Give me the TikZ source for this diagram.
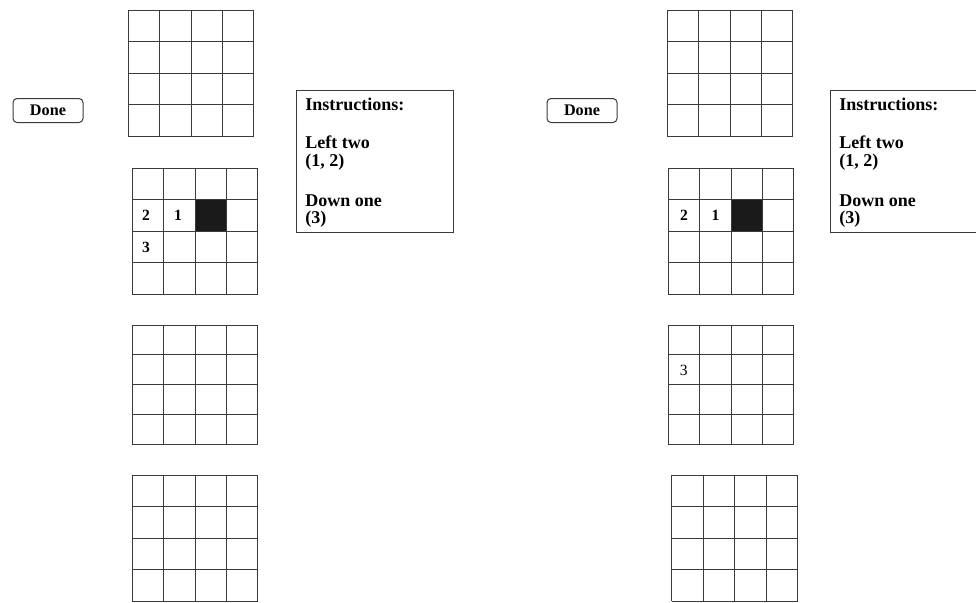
\documentclass[tikz,border=0pt]{standalone}
\usepackage{fontspec}
\setmainfont{Liberation Serif}
\usetikzlibrary{positioning}
\definecolor{ink}{HTML}{1A1A1A}
\definecolor{rule}{HTML}{3A3A3A}

\begin{document}
\begin{tikzpicture}[x=0.5pt,y=0.5pt,
  g/.style={draw=rule,line width=0.5pt},
  btn/.style={draw=rule,line width=0.5pt,rounded corners=2pt,minimum width=35pt,minimum height=12pt,inner sep=0pt,font=\fontsize{8.1}{9}\selectfont\bfseries},
  box/.style={draw=rule,line width=0.5pt,minimum width=78.5pt,minimum height=71pt,inner sep=0pt,anchor=north west},
  txt/.style={inner sep=0pt,align=left,font=\fontsize{9}{8.75}\selectfont\bfseries},
  num/.style={inner sep=0pt,font=\fontsize{7.8}{9}\selectfont\bfseries}]
\useasboundingbox (0,0) rectangle (976,-602);
% left panel
\node[btn] (doneL) at (48,-110.5) {Done};
\draw[g,shift={(128,-136)}] (0,0) grid[step=31.5] (126,126);
\fill[ink] (195,-199.5) rectangle (226.5,-231);
\draw[g,shift={(132,-294)}] (0,0) grid[step=31.5] (126,126);
\node[num] (l2) at (146,-215.5) {2};
\node[num] (l1) at (178,-215.5) {1};
\node[num] (l3) at (146,-247) {3};
\draw[g,shift={(132,-444)}] (0,0) grid[xstep=31.5,ystep=29.75] (126,119);
\draw[g,shift={(132,-601)}] (0,0) grid[step=31.5] (126,126);
\node[box] (insL) at (296,-90) {};
\node[txt,below right=3.75pt and 4.5pt of insL.north west] (tL) {Instructions:\\[10.5pt]Left two\\(1, 2)\\[11.25pt]Down one\\(3)};
% right panel
\node[btn] (doneR) at (582,-110.5) {Done};
\draw[g,shift={(667,-136)}] (0,0) grid[step=31.5] (126,126);
\fill[ink] (731,-199.5) rectangle (762.5,-231);
\draw[g,shift={(668,-294)}] (0,0) grid[step=31.5] (126,126);
\node[num] (r2) at (684,-215.5) {2};
\node[num] (r1) at (715.5,-215.5) {1};
\draw[g,shift={(668,-444)}] (0,0) grid[xstep=31.5,ystep=29.75] (126,119);
\node[num,font=\fontsize{7.8}{9}\selectfont] (r3) at (683.75,-370) {3};
\draw[g,shift={(671.5,-601)}] (0,0) grid[step=31.5] (126,126);
\coordinate (insR) at (830,-90);
\draw[g] (976,-90) -- (insR) -- (830,-232) -- (976,-232);
\node[txt,below right=3.75pt and 4.5pt of insR] (tR) {Instructions:\\[10.5pt]Left two\\(1, 2)\\[11.25pt]Down one\\(3)};
\end{tikzpicture}
\end{document}
